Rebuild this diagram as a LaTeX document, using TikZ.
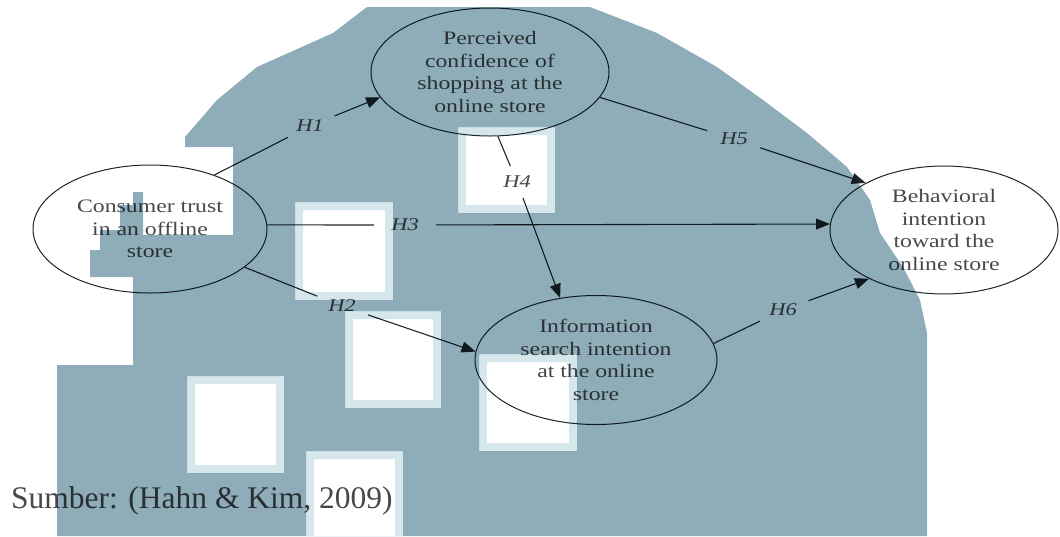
\documentclass[tikz,border=0pt]{standalone}
\usepackage{fontspec}
\setmainfont{Liberation Serif}
\newfontfamily\ellfont[FakeStretch=1.25]{Liberation Serif}
\usetikzlibrary{shapes.geometric,arrows.meta}
\definecolor{bgblue}{RGB}{142,173,184}
\definecolor{bandblue}{RGB}{214,231,236}
\definecolor{txtgray}{RGB}{72,72,72}
\definecolor{linecol}{RGB}{30,38,42}
\tikzset{
  construct/.style={ellipse, draw=linecol, line width=1pt, inner sep=0pt,
    align=center, text=txtgray, font=\ellfont\fontsize{19}{22.5}\selectfont},
  hyp/.style={ellipse, inner sep=0pt, minimum width=62pt, minimum height=32pt,
    text=txtgray, font=\ellfont\itshape\fontsize{18}{20}\selectfont},
  conn/.style={draw=linecol, line width=1.1pt},
  arr/.style={conn, -{Triangle[length=14pt,width=11pt]}},
  caption/.style={anchor=base west, inner sep=0pt, text=txtgray,
    font=\fontsize{31.5}{36}\selectfont}
}
\begin{document}
\begin{tikzpicture}[x=1pt,y=-1pt]
\useasboundingbox (0,0) rectangle (1060,536);
% constructs
\node[construct, minimum width=234pt, minimum height=128pt] (cons) at (150,229) {Consumer trust\\in an offline\\store};
\node[construct, minimum width=238pt, minimum height=128pt] (perc) at (490,72) {Perceived\\confidence of\\shopping at the\\online store};
\node[construct, minimum width=242pt, minimum height=129pt] (info) at (596,360) {Information\\search intention\\at the online\\store};
\node[construct, minimum width=228pt, minimum height=128pt] (beh) at (944,230) {Behavioral\\intention\\toward the\\online store};
% hypothesis labels
\node[hyp] (h1) at (310,126) {H1};
\node[hyp] (h2) at (342,306) {H2};
\node[hyp] (h3) at (405,225) {H3};
\node[hyp] (h4) at (517,182) {H4};
\node[hyp] (h5) at (734,139) {H5};
\node[hyp] (h6) at (783,310) {H6};
% connectors
\draw[conn] (cons.40) -- (h1);
\draw[arr] (h1) -- (perc.193);
\draw[conn] (cons.338) -- (h2);
\draw[arr] (h2) -- (info.176);
\draw[conn] (cons.2) -- (h3);
\draw[arr] (h3) -- (beh.177);
\draw[conn] (perc.277) -- (h4);
\draw[arr] (h4) -- (info.120);
\draw[conn] (perc.347) -- (h5);
\draw[arr] (h5) -- (beh.149);
\draw[conn] (info.8) -- (h6);
\draw[arr] (h6) -- (beh.213);
% source
\node[caption] (src) at (11,508) {Sumber: (Hahn \& Kim, 2009)};
% background overlay
\begin{scope}[blend mode=multiply]
\path[fill=bgblue, even odd rule]
  (367,7) -- (590,7) -- (657,33) -- (717,67) -- (763,100) -- (807,133)
  -- (847,167) -- (870,200) -- (880,233) -- (903,267) -- (920,300)
  -- (927,333) -- (927,536) -- (57,536) -- (57,365) -- (133,365)
  -- (133,277) -- (90,277) -- (90,250) -- (100,250) -- (100,230)
  -- (120,230) -- (120,205) -- (133,205) -- (133,192) -- (143,192)
  -- (143,235) -- (233,235) -- (233,147) -- (185,147) -- (185,137)
  -- (217,100) -- (257,67) -- (333,33) -- cycle
  (458,127) rectangle (555,213)
  (295,202) rectangle (393,300)
  (345,311) rectangle (441,408)
  (479,354) rectangle (577,451)
  (187,376) rectangle (284,473)
  (306,451) rectangle (403,536);
\path[fill=bandblue, even odd rule]
  (458,127) rectangle (555,213) (466,135) rectangle (547,205)
  (295,202) rectangle (393,300) (303,210) rectangle (385,292)
  (345,311) rectangle (441,408) (353,319) rectangle (433,400)
  (479,354) rectangle (577,451) (487,362) rectangle (569,443)
  (187,376) rectangle (284,473) (195,384) rectangle (276,465)
  (306,451) rectangle (403,536) (314,459) rectangle (395,536);
\end{scope}
\end{tikzpicture}
\end{document}
